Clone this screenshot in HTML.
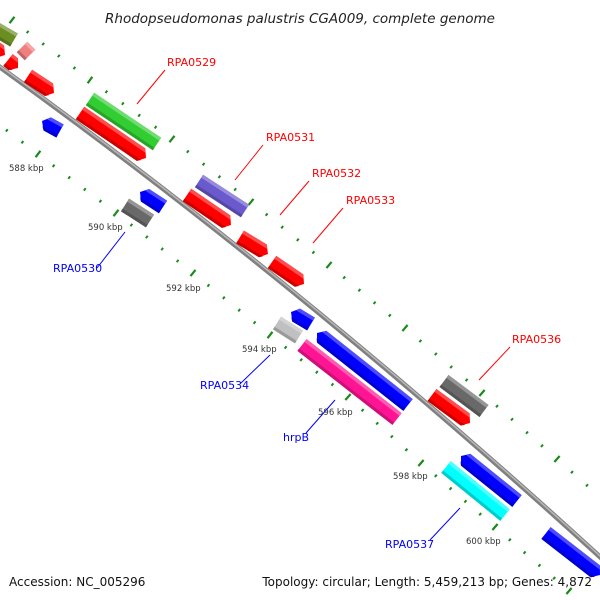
<!DOCTYPE html>
<html><head><meta charset="utf-8"><style>
html,body{margin:0;padding:0;background:#fff;width:600px;height:600px;overflow:hidden;}
svg{display:block;font-family:"DejaVu Sans","Liberation Sans",sans-serif;overflow:hidden;}
</style></head><body>
<svg id="s" width="600" height="600" viewBox="0 0 600 600" xmlns="http://www.w3.org/2000/svg">
<rect width="600" height="600" fill="#fff"/>
<g id="ticks"></g>
<path d="M-10,60 Q300,282 610,566" fill="none" stroke="#808080" stroke-width="5"/>
<path d="M-10,59 Q300,281 610,565" fill="none" stroke="#b8b8b8" stroke-width="1.5"/>
<g id="feats"></g>
<g font-size="11" stroke-width="1">
<text x="167" y="66" fill="#f00">RPA0529</text><line x1="165" y1="70" x2="137" y2="104" stroke="#f00"/>
<text x="266" y="141" fill="#f00">RPA0531</text><line x1="263" y1="145" x2="235" y2="180" stroke="#f00"/>
<text x="312" y="177" fill="#f00">RPA0532</text><line x1="309" y1="181" x2="280" y2="215" stroke="#f00"/>
<text x="346" y="204" fill="#f00">RPA0533</text><line x1="343" y1="208" x2="313" y2="243" stroke="#f00"/>
<text x="512" y="343" fill="#f00">RPA0536</text><line x1="510" y1="347" x2="479" y2="380" stroke="#f00"/>
<text x="53" y="272" fill="#00f">RPA0530</text><line x1="97" y1="268" x2="125" y2="232" stroke="#00f"/>
<text x="200" y="389" fill="#00f">RPA0534</text><line x1="241" y1="383" x2="270" y2="355" stroke="#00f"/>
<text x="283" y="441" fill="#00f">hrpB</text><line x1="306" y1="433" x2="335" y2="400" stroke="#00f"/>
<text x="385" y="548" fill="#00f">RPA0537</text><line x1="430" y1="540" x2="460" y2="508" stroke="#00f"/>
</g>
<g font-size="8.5" fill="#333">
<text x="9" y="171">588 kbp</text><text x="88" y="230">590 kbp</text><text x="166" y="291">592 kbp</text>
<text x="242" y="352">594 kbp</text><text x="318" y="415">596 kbp</text><text x="393" y="479">598 kbp</text><text x="466" y="544">600 kbp</text>
</g>
<text x="300" y="23" font-size="13.5" font-style="italic" text-anchor="middle" fill="#222">Rhodopseudomonas palustris CGA009, complete genome</text>
<text x="9" y="586" font-size="12" fill="#111">Accession: NC_005296</text>
<text x="592" y="586" font-size="12" fill="#111" text-anchor="end">Topology: circular; Length: 5,459,213 bp; Genes: 4,872</text>
</svg>
<script>
var NS="http://www.w3.org/2000/svg";
function el(p,n,a){var e=document.createElementNS(NS,n);for(var k in a)e.setAttribute(k,a[k]);p.appendChild(e);return e;}
var T=document.getElementById('ticks');
function row(pts){
  for(var i=0;i<pts.length-1;i++){
    var a=pts[i],b=pts[i+1];var dx=b[0]-a[0],dy=b[1]-a[1];var L=Math.hypot(dx,dy);var ux=dx/L,uy=dy/L;var nx=-uy,ny=ux;
    for(var j=0;j<5;j++){var f=j/5;var x=a[0]+dx*f,y=a[1]+dy*f;var h=j==0?4:1.5;
      if(x<-5||x>605||y<-5||y>605)continue;
      el(T,'line',{x1:x-nx*h,y1:y-ny*h,x2:x+nx*h,y2:y+ny*h,stroke:'#1a8a1a','stroke-width':j==0?2.2:2});}
  }
}
row([[-40,95],[38,154],[116,213],[193,273],[270,335],[348,397],[421,463],[495,527],[569,591],[643,655]]);
row([[12,20],[90,80],[172,139],[251,202],[329,265],[405,328],[482,393],[557,459],[632,525]]);
var F=document.getElementById('feats');
function shade(c,k){var r=parseInt(c.substr(1,2),16),g=parseInt(c.substr(3,2),16),b=parseInt(c.substr(5,2),16);
 function m(v){return Math.round(k>0?v+(255-v)*k:v*(1+k));}return 'rgb('+m(r)+','+m(g)+','+m(b)+')';}
function feat(x1,y1,x2,y2,c,ar){
  var dx=x2-x1,dy=y2-y1,L=Math.hypot(dx,dy),ang=Math.atan2(dy,dx)*180/Math.PI,w=15,h=w/2,ah=6;
  var g=el(F,'g',{transform:'translate('+x1+','+y1+') rotate('+ang+')'});
  var p;
  if(ar=='r')p=[[0,-h],[L-ah,-h],[L,0],[L-ah,h],[0,h]];
  else if(ar=='l')p=[[ah,-h],[L,-h],[L,h],[ah,h],[0,0]];
  else p=[[0,-h],[L,-h],[L,h],[0,h]];
  el(g,'polygon',{points:p.map(function(q){return q.join(',')}).join(' '),fill:c});
  var s=ar=='r'?[[0,-h],[L-ah,-h],[L-ah*0.6,-h+3.5],[0,-h+3.5]]:ar=='l'?[[ah,-h],[L,-h],[L,-h+3.5],[ah*0.6,-h+3.5]]:[[0,-h],[L,-h],[L,-h+3.5],[0,-h+3.5]];
  el(g,'polygon',{points:s.map(function(q){return q.join(',')}).join(' '),fill:shade(c,0.3)});
  var d=ar=='r'?[[0,h-3],[L-ah*0.5,h-3],[L-ah,h],[0,h]]:[[ah*0.5,h-3],[L,h-3],[L,h],[ah,h]];
  if(!ar)d=[[0,h-3],[L,h-3],[L,h],[0,h]];
  el(g,'polygon',{points:d.map(function(q){return q.join(',')}).join(' '),fill:shade(c,-0.2)});
}
feat(-20,20,14,40,'#6b8e23','');
feat(22,47,30,55,'#f08080','');
feat(-15,42,5,55,'#ff0000','r');
feat(8,60,18,68,'#ff0000','r');
feat(28,76,54,93,'#ff0000','r');
feat(90,99,157,144,'#32cd32','');
feat(80,113,146,158,'#ff0000','r');
feat(42,121,60,131,'#0000ff','l');
feat(125,205,150,221,'#696969','');
feat(140,192,163,207,'#0000ff','l');
feat(199,181,245,211,'#6a5acd','');
feat(187,195,231,225,'#ff0000','r');
feat(240,237,268,254,'#ff0000','r');
feat(272,262,304,284,'#ff0000','r');
feat(291,312,311,324,'#0000ff','l');
feat(277,323,299,337,'#c0c0c0','');
feat(317,333,408,405,'#0000ff','l');
feat(302,345,397,419,'#ff1493','');
feat(444,381,484,411,'#696969','');
feat(432,395,470,423,'#ff0000','r');
feat(461,456,517,501,'#0000ff','l');
feat(446,467,505,515,'#00ffff','');
feat(546,533,600,575,'#0000ff','r');
</script>
</body></html>
